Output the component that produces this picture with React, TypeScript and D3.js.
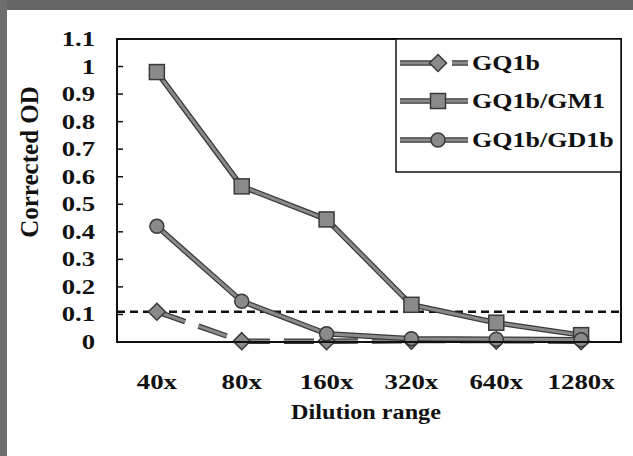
import React, { useEffect } from 'react';
import * as d3 from 'd3';

// dilution steps and corrected OD
const dilutions = ['40x', '80x', '160x', '320x', '640x', '1280x'];
const gq1b = [0.11, 0.003, 0.003, 0.005, 0.005, 0.003];
const gq1bGm1 = [0.98, 0.565, 0.445, 0.135, 0.07, 0.025];
const gq1bGd1b = [0.42, 0.148, 0.03, 0.012, 0.01, 0.008];
const yTicks = [0, 0.1, 0.2, 0.3, 0.4, 0.5, 0.6, 0.7, 0.8, 0.9, 1, 1.1];
const cutoff = 0.11;

const seriesNames = ['GQ1b', 'GQ1b/GM1', 'GQ1b/GD1b'];
const seriesValues = [gq1b, gq1bGm1, gq1bGd1b];
const seriesMarkers = ['diamond', 'square', 'circle'];

const W = 633;
const H = 456;
const left = 117, right = 621, top = 39, bottom = 342;
const font = "'Liberation Serif', 'Times New Roman', Times, serif";
const dark = '#3a3a3a';
const fill = '#8a8a8a';

// scanned text looks wide, so stretch it sideways
const Txt = ({ x, y, size, sx = 1.3, anchor = 'start', children }: any) => (
    <text
        transform={`translate(${x},${y}) scale(${sx},1)`}
        style={{ fontFamily: font, fontWeight: 700, fontSize: size }}
        textAnchor={anchor}
        fill="#111"
    >
        {children}
    </text>
);

const Marker = ({ type, x, y }: any) => {
    if (type === 'square') {
        return <rect x={x - 7.5} y={y - 7.5} width={15} height={15} fill={fill} stroke={dark} strokeWidth={1.5} />;
    }
    if (type === 'circle') {
        return <circle cx={x} cy={y} r={7} fill={fill} stroke={dark} strokeWidth={1.5} />;
    }
    const s = 8.5;
    return (
        <path
            d={`M${x},${y - s}L${x + s},${y}L${x},${y + s}L${x - s},${y}Z`}
            fill={fill}
            stroke={dark}
            strokeWidth={1.5}
        />
    );
};

export default function App() {
    useEffect(() => {
        document.documentElement.style.overflow = 'hidden';
        document.body.style.margin = '0';
    }, []);

    const xScale = d3.scalePoint().domain(dilutions).range([left, right]).padding(0.47);
    const yScale = d3.scaleLinear().domain([0, 1.1]).range([bottom, top]);

    const line = d3
        .line<number>()
        .x((d, i) => xScale(dilutions[i]) as number)
        .y(d => yScale(d));

    const legendRows = [63, 101, 140];

    return (
        <svg width={W} height={H} style={{ position: 'fixed', left: 0, top: 0, display: 'block', background: '#fff' }}>
            {/* scan border, top and left only */}
            <rect x={0} y={0} width={W} height={10} fill="#656565" />
            <rect x={0} y={0} width={7} height={H} fill="#6e6e6e" />

            {/* cutoff */}
            <line
                x1={left}
                x2={right}
                y1={yScale(cutoff)}
                y2={yScale(cutoff)}
                stroke="#111"
                strokeWidth={2.5}
                strokeDasharray="8,5"
            />

            {/* series */}
            {seriesValues.map((vals, k) => (
                <g key={seriesNames[k]}>
                    <path
                        d={line(vals) as string}
                        fill="none"
                        stroke={dark}
                        strokeWidth={5.5}
                        strokeDasharray={k === 0 ? '30,14' : undefined}
                    />
                    <path
                        d={line(vals) as string}
                        fill="none"
                        stroke={fill}
                        strokeWidth={3}
                        strokeDasharray={k === 0 ? '30,14' : undefined}
                    />
                    {vals.map((v, i) => (
                        <Marker key={i} type={seriesMarkers[k]} x={xScale(dilutions[i])} y={yScale(v)} />
                    ))}
                </g>
            ))}

            {/* frame */}
            <rect x={left} y={top} width={right - left} height={bottom - top} fill="none" stroke="#111" strokeWidth={2} />
            {yTicks.map(t => (
                <line key={t} x1={left} x2={left + 6} y1={yScale(t)} y2={yScale(t)} stroke="#111" strokeWidth={1.5} />
            ))}

            {/* legend */}
            <rect x={396} y={top} width={right - 396} height={172 - top} fill="#fff" stroke="#111" strokeWidth={1.5} />
            {seriesNames.map((name, k) => {
                const y = legendRows[k];
                return (
                    <g key={name}>
                        {k === 0 ? (
                            <>
                                <line x1={400} x2={440} y1={y} y2={y} stroke={dark} strokeWidth={5.5} />
                                <line x1={400} x2={440} y1={y} y2={y} stroke={fill} strokeWidth={3} />
                                <line x1={452} x2={468} y1={y} y2={y} stroke={dark} strokeWidth={5.5} />
                                <line x1={452} x2={468} y1={y} y2={y} stroke={fill} strokeWidth={3} />
                            </>
                        ) : (
                            <>
                                <line x1={400} x2={468} y1={y} y2={y} stroke={dark} strokeWidth={5.5} />
                                <line x1={400} x2={468} y1={y} y2={y} stroke={fill} strokeWidth={3} />
                            </>
                        )}
                        <Marker type={seriesMarkers[k]} x={438} y={y} />
                        <Txt x={472} y={y + 7} size={21} sx={1.24}>
                            {name}
                        </Txt>
                    </g>
                );
            })}

            {/* y tick labels */}
            {yTicks.map(t => (
                <Txt key={t} x={95} y={yScale(t) + 7} size={21} sx={1.27} anchor="end">
                    {String(t)}
                </Txt>
            ))}

            {/* x tick labels */}
            {dilutions.map(d => (
                <Txt key={d} x={xScale(d)} y={389} size={22} sx={1.22} anchor="middle">
                    {d}
                </Txt>
            ))}

            {/* axis titles */}
            <Txt x={366} y={419} size={22} sx={1.1} anchor="middle">
                Dilution range
            </Txt>
            <text
                transform="translate(38,162) rotate(-90)"
                style={{ fontFamily: font, fontWeight: 700, fontSize: 25 }}
                textAnchor="middle"
                fill="#111"
            >
                Corrected OD
            </text>
        </svg>
    );
}
